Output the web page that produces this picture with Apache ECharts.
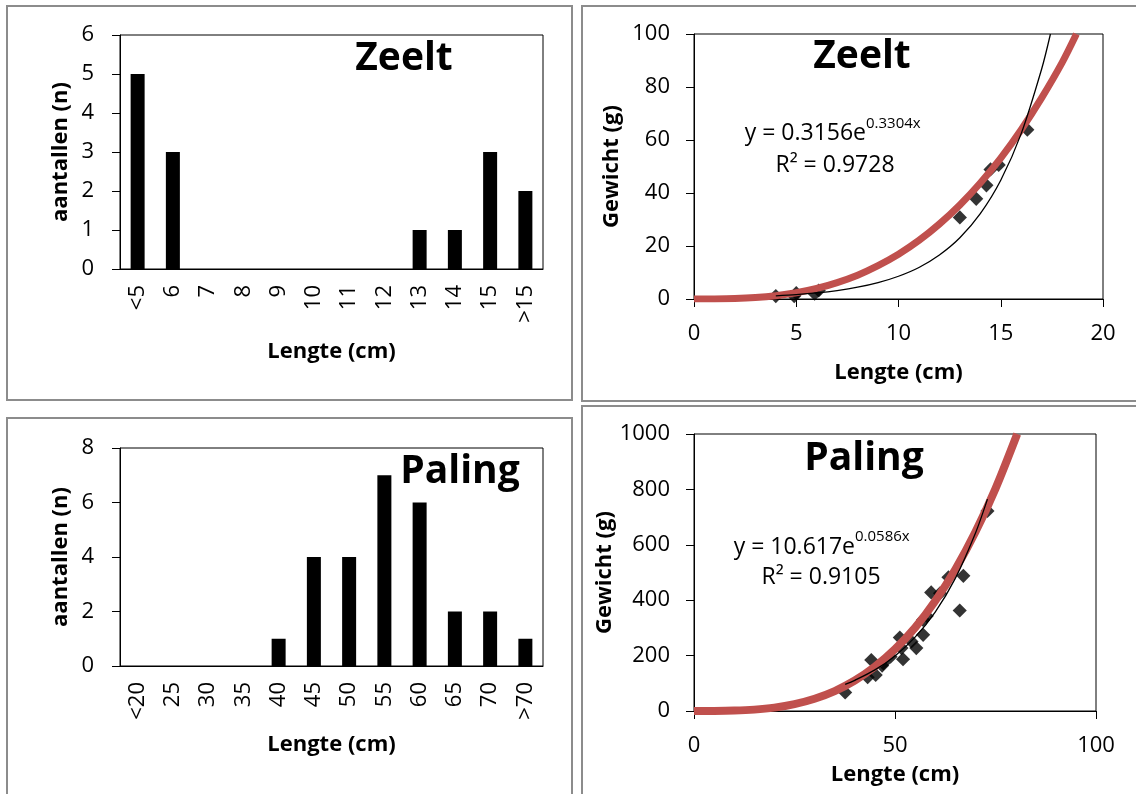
<!DOCTYPE html>
<html>
<head>
<meta charset="utf-8">
<script src="https://cdn.jsdelivr.net/npm/echarts@6/dist/echarts.min.js"></script>
<style>
  html, body { margin: 0; padding: 0; background: #fff; }
  #chart { width: 1136px; height: 794px; }
</style>
</head>
<body>
<div id="chart"></div>
<script>
// lengte-klassen en aantallen (histogrammen)
const zeeltKlassen = ['<5', '6', '7', '8', '9', '10', '11', '12', '13', '14', '15', '>15'];
const zeeltAantal = [5, 3, 0, 0, 0, 0, 0, 0, 1, 1, 3, 2];
const palingKlassen = ['<20', '25', '30', '35', '40', '45', '50', '55', '60', '65', '70', '>70'];
const palingAantal = [0, 0, 0, 0, 1, 4, 4, 7, 6, 2, 2, 1];

// lengte-gewicht metingen
const zeeltLengte = [4.0, 4.9, 5.0, 5.9, 6.1, 13.0, 13.8, 14.3, 14.5, 14.9, 16.3];
const zeeltGewicht = [1.1, 1.1, 2.2, 2.0, 3.2, 30.8, 37.8, 42.9, 48.9, 50.6, 63.9];
const palingLengte = [37.6, 43.2, 44.1, 45.2, 46.8, 47.1, 48.9, 51.2, 51.6, 52.0, 54.1, 55.3, 57.0, 57.0, 57.9, 59.0, 61.2, 63.3, 66.1, 67.0, 73.0];
const palingGewicht = [67, 122, 184, 130, 164, 172, 196, 265, 227, 187, 251, 227, 275, 329, 343, 428, 425, 483, 363, 488, 722];

const zeeltRoodX = [0, 1, 2, 3, 4, 5, 6, 7, 8, 9, 10, 11, 12, 13, 14, 15, 16, 17, 18, 18.7];
const zeeltRoodY = [0, 0.03, 0.18, 0.56, 1.26, 2.38, 3.98, 6.2, 9.0, 12.6, 16.9, 22.1, 28.3, 35.5, 43.8, 53.2, 63.9, 75.9, 89.2, 100];
const palingRoodX = [0, 5, 10, 15, 20, 25, 30, 35, 40, 45, 50, 55, 60, 65, 70, 75, 80.4];
const palingRoodY = [0, 0.15, 1.4, 5.0, 12.3, 25, 44.4, 72, 110, 160, 223, 301, 397, 511, 646, 803, 1000];

const zeeltTrendX = [4, 5, 6, 7, 8, 9, 10, 11, 12, 13, 14, 15, 16, 17, 17.43];
const zeeltTrendY = [1.18, 1.64, 2.29, 3.19, 4.44, 6.18, 8.59, 11.9, 16.6, 23.1, 32.2, 44.8, 62.4, 86.8, 100];
const palingTrendX = [37.6, 40, 45, 50, 55, 60, 65, 70, 73];
const palingTrendY = [96.1, 110.7, 148.3, 198.9, 266.5, 357.3, 478.8, 641.8, 765];

const FONT = 'Open Sans';
const zip = (xs, ys) => xs.map((x, i) => [x, ys[i]]);

const chart = echarts.init(document.getElementById('chart'));

function valAxis (idx, min, max, interval, name, gap, labelMargin) {
  return {
    type: 'value', gridIndex: idx, min: min, max: max, interval: interval,
    name: name, nameLocation: 'middle', nameGap: gap,
    nameTextStyle: { fontFamily: FONT, fontWeight: 'bold', fontSize: 22, color: '#000' },
    axisLine: { show: true, onZero: false, lineStyle: { color: '#000', width: 1 } },
    axisTick: { show: true, length: 8, lineStyle: { color: '#000' } },
    axisLabel: { fontFamily: FONT, fontSize: 22, color: '#000', margin: labelMargin, formatter: v => String(v) },
    splitLine: { show: false }
  }
}

function catAxis (idx, data) {
  return {
    type: 'category', gridIndex: idx, data: data,
    name: 'Lengte (cm)', nameLocation: 'middle', nameGap: 72,
    nameTextStyle: { fontFamily: FONT, fontWeight: 'bold', fontSize: 22, color: '#000' },
    axisLine: { lineStyle: { color: '#000', width: 1 } },
    axisTick: { length: 9, interval: 0, lineStyle: { color: '#000' } },
    axisLabel: { interval: 0, rotate: 90, fontFamily: FONT, fontSize: 22, color: '#000', margin: 16 }
  }
}

function txt (x, y, text, size, bold, align) {
  return {
    type: 'text', x: x, y: y, z: 100,
    style: {
      text: text, fontFamily: FONT, fontSize: size, fontWeight: bold ? 'bold' : 'normal',
      fill: '#000', textAlign: align || 'center', textVerticalAlign: 'middle'
    }
  }
}

function frame (x, y, w, h) {
  return { type: 'rect', shape: { x: x, y: y, width: w, height: h }, style: { fill: 'none', stroke: '#8c8c8c', lineWidth: 2 } }
}

const gridStyle = { show: true, borderColor: '#000', borderWidth: 1, backgroundColor: 'transparent' };

chart.setOption({
  animation: false,
  grid: [
    Object.assign({ left: 120, top: 35, width: 423, height: 234 }, gridStyle),
    Object.assign({ left: 694, top: 34, width: 409, height: 265 }, gridStyle),
    Object.assign({ left: 120, top: 448, width: 423, height: 218 }, gridStyle),
    Object.assign({ left: 694, top: 434, width: 402, height: 277 }, gridStyle)
  ],
  xAxis: [
    catAxis(0, zeeltKlassen),
    valAxis(1, 0, 20, 5, 'Lengte (cm)', 63, 24),
    Object.assign(catAxis(2, palingKlassen), { nameGap: 68 }),
    valAxis(3, 0, 100, 50, 'Lengte (cm)', 53, 24)
  ],
  yAxis: [
    valAxis(0, 0, 6, 1, 'aantallen (n)', 48, 26),
    valAxis(1, 0, 100, 20, 'Gewicht (g)', 71, 24),
    valAxis(2, 0, 8, 2, 'aantallen (n)', 48, 26),
    valAxis(3, 0, 1000, 200, 'Gewicht (g)', 75, 24)
  ],
  series: [
    {
      type: 'bar', xAxisIndex: 0, yAxisIndex: 0, data: zeeltAantal,
      barWidth: 14, itemStyle: { color: '#000' }
    },
    {
      type: 'bar', xAxisIndex: 2, yAxisIndex: 2, data: palingAantal,
      barWidth: 14, itemStyle: { color: '#000' }
    },
    {
      type: 'line', xAxisIndex: 1, yAxisIndex: 1, data: zip(zeeltRoodX, zeeltRoodY),
      smooth: 0.3, showSymbol: false, clip: true,
      lineStyle: { color: '#C0504D', width: 7 }
    },
    {
      type: 'line', xAxisIndex: 1, yAxisIndex: 1, data: zip(zeeltTrendX, zeeltTrendY),
      smooth: 0.3, showSymbol: false, clip: true,
      lineStyle: { color: '#000', width: 1.3 }
    },
    {
      type: 'scatter', xAxisIndex: 1, yAxisIndex: 1, data: zip(zeeltLengte, zeeltGewicht),
      symbol: 'rect', symbolRotate: 45, symbolSize: 10, itemStyle: { color: '#000' }
    },
    {
      type: 'line', xAxisIndex: 3, yAxisIndex: 3, data: zip(palingRoodX, palingRoodY),
      smooth: 0.3, showSymbol: false, clip: true,
      lineStyle: { color: '#C0504D', width: 8 }
    },
    {
      type: 'line', xAxisIndex: 3, yAxisIndex: 3, data: zip(palingTrendX, palingTrendY),
      smooth: 0.3, showSymbol: false, clip: true,
      lineStyle: { color: '#000', width: 1.3 }
    },
    {
      type: 'scatter', xAxisIndex: 3, yAxisIndex: 3, data: zip(palingLengte, palingGewicht),
      symbol: 'rect', symbolRotate: 45, symbolSize: 10, itemStyle: { color: '#000' }
    }
  ],
  graphic: [
    frame(7, 6, 565, 394),
    frame(582, 6, 560, 395),
    frame(7, 418, 565, 384),
    frame(582, 406, 560, 396),
    txt(404, 59, 'Zeelt', 39, true),
    txt(862, 57, 'Zeelt', 39, true),
    txt(460, 472, 'Paling', 39, true),
    txt(864, 459, 'Paling', 39, true),
    // trendlijn vergelijkingen
    txt(866, 133, 'y = 0.3156e', 23, false, 'right'),
    txt(866, 124, '0.3304x', 15, false, 'left'),
    txt(835, 165, 'R² = 0.9728', 23, false, 'center'),
    txt(855, 547, 'y = 10.617e', 23, false, 'right'),
    txt(855, 537, '0.0586x', 15, false, 'left'),
    txt(821, 577, 'R² = 0.9105', 23, false, 'center')
  ]
})
</script>
</body>
</html>
